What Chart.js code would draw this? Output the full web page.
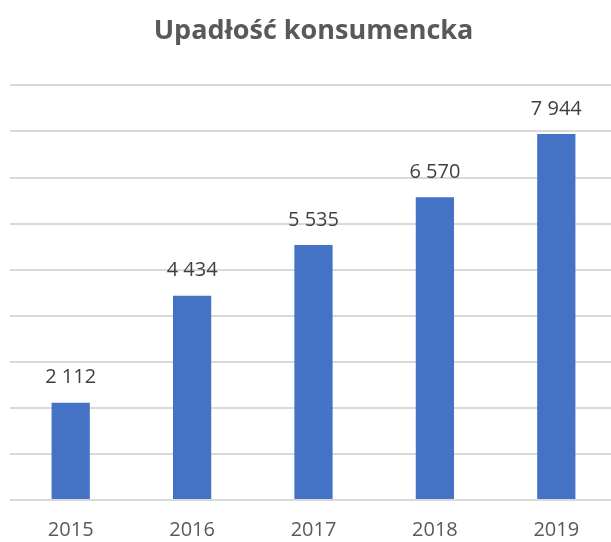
<!DOCTYPE html>
<html>
<head>
<meta charset="utf-8">
<script src="https://cdn.jsdelivr.net/npm/chart.js@4"></script>
<style>
  html, body { margin: 0; padding: 0; overflow: hidden; background: #fff; }
  #wrap { width: 617px; height: 542px; }
</style>
</head>
<body>
<div id="wrap"><canvas id="upadlosc"></canvas></div>
<script>
var years = ["2015", "2016", "2017", "2018", "2019"];
var counts = [2112, 4434, 5535, 6570, 7944];

// etykiety z wartościami nad słupkami
var valueLabels = {
    id: 'valueLabels',
    afterDatasetsDraw: function(chart) {
        var c = chart.ctx;
        var meta = chart.getDatasetMeta(0);
        c.save();
        c.font = '20px "Open Sans"';
        c.fillStyle = '#404040';
        c.textAlign = 'center';
        c.textBaseline = 'middle';
        meta.data.forEach(function(bar, i) {
            var txt = counts[i].toLocaleString('en-US').replace(/,/g, ' ');
            c.fillText(txt, bar.x, bar.y - 25);
        });
        c.restore();
    }
};

var ctx = document.getElementById('upadlosc').getContext('2d');
var chart = new Chart(ctx, {
    type: 'bar',
    data: {
        labels: years,
        datasets: [{
            label: 'Upadłość konsumencka',
            backgroundColor: '#4472C4',
            data: counts,
            barPercentage: 0.63,
            categoryPercentage: 0.5
        }]
    },
    options: {
        responsive: true,
        maintainAspectRatio: false,
        animation: false,
        layout: { padding: { left: 10, right: 0, top: 0, bottom: 0 } },
        plugins: {
            legend: { display: false },
            tooltip: { enabled: false },
            title: {
                display: true,
                text: 'Upadłość konsumencka',
                color: '#595959',
                font: { family: '"Open Sans"', size: 27, weight: 'bold' },
                padding: { top: 15, bottom: 38 }
            }
        },
        scales: {
            x: {
                grid: { display: false, drawTicks: false },
                border: { display: false },
                ticks: {
                    color: '#595959',
                    font: { family: '"Open Sans"', size: 20 },
                    padding: 18
                },
                afterFit: function(scale) { scale.height = 42; }
            },
            y: {
                min: 0,
                max: 9000,
                ticks: { display: false, stepSize: 1000 },
                border: { display: false },
                grid: { color: '#d9d9d9', lineWidth: 2, drawTicks: false }
            }
        }
    },
    plugins: [valueLabels]
});
</script>
</body>
</html>
